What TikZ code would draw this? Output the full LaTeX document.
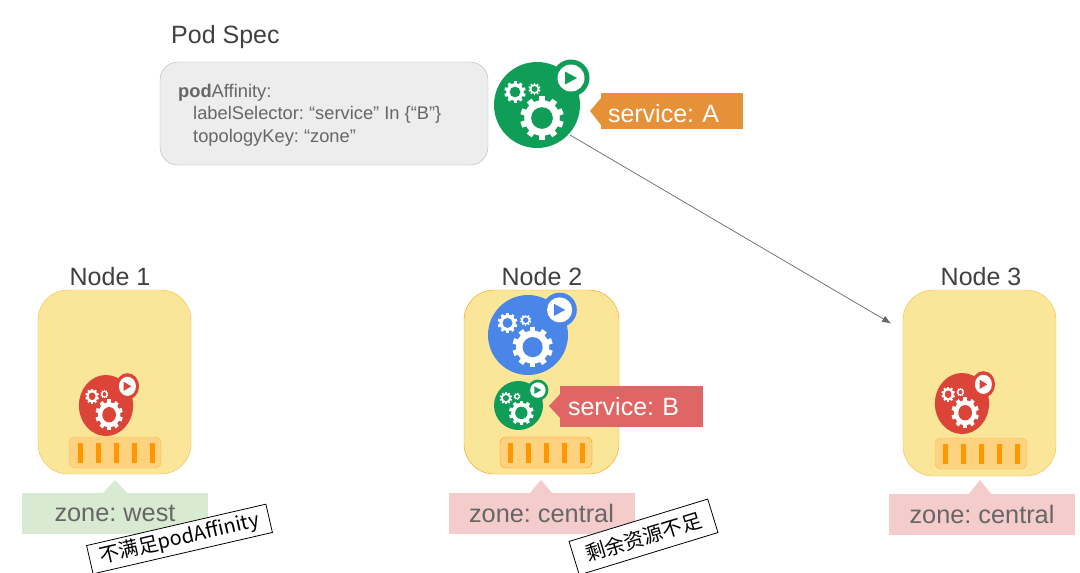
\documentclass[tikz,border=0pt]{standalone}
\usepackage{fontspec}
\setmainfont{Liberation Sans}
\newfontfamily\cjk{Noto Sans CJK SC}
\usepackage{tikz}
\usetikzlibrary{arrows.meta}
\frenchspacing

\definecolor{podgreen}{HTML}{0F9D58}
\definecolor{podblue}{HTML}{4A86E8}
\definecolor{podred}{HTML}{DB4437}
\definecolor{tagorange}{HTML}{E69138}
\definecolor{tagred}{HTML}{E06666}
\definecolor{zonegreen}{HTML}{D9EAD3}
\definecolor{zonered}{HTML}{F4CCCC}
\definecolor{nodeyellow}{HTML}{FAE699}
\definecolor{nodeedge}{HTML}{FFB74D}
\definecolor{diskfill}{HTML}{FFD27F}
\definecolor{diskbar}{HTML}{FF9800}

\tikzset{
  title/.style={text=black!75, font=\fontsize{25}{29}\selectfont, inner sep=0pt},
  nodebox/.style={draw=nodeedge, fill=nodeyellow, rounded corners=30pt, minimum width=153pt, minimum height=184pt},
  diskbox/.style={draw=nodeedge, fill=diskfill, rounded corners=6pt, minimum width=92pt, minimum height=31pt},
  zonetag/.style={text=black!60, font=\fontsize{25.3}{29}\selectfont, minimum width=186pt, minimum height=41pt, inner sep=0pt},
  servicetag/.style={text=white, font=\fontsize{25}{29}\selectfont, minimum height=36pt, inner ysep=0pt, align=left},
  notebox/.style={draw=black, line width=0.8pt, fill=white, font=\cjk\fontsize{20}{24}\selectfont, inner sep=0pt, minimum height=29pt},
  pics/cogwheel/.style={code={
    \fill[white] (0,0) circle (0.82);
    \foreach \a in {0,36,...,324}
      \fill[white,rotate=\a] (-0.14,0.6) rectangle (0.14,1);
    \fill[#1] (0,0) circle (0.5);
  }},
  pics/podicon/.style={code={
    \fill[#1] (0,0) circle (43);
    \fill[#1] (34,-27) circle (18.5);
    \fill[white] (34,-27) circle (13.5);
    \fill[#1] (28,-33.5) -- (40,-27) -- (28,-20.5) -- cycle;
    \pic[transform shape,scale=21.7] at (5,13) {cogwheel=#1};
    \pic[transform shape,scale=10.7] at (-22,-13) {cogwheel=#1};
    \pic[transform shape,scale=6] at (-2.5,-16) {cogwheel=#1};
    \coordinate (-edge) at (33,30);
  }},
  pics/diskbars/.style={code={
    \foreach \i in {0,...,4}
      \fill[diskbar] (18*\i-2.5,-10) rectangle (18*\i+2.5,10);
  }},
}

\begin{document}
\begin{tikzpicture}[x=1pt,y=-1pt,shorten >=1pt]
  \useasboundingbox (0,0) rectangle (1080,573);

  % Pod spec
  \node[title, anchor=west] (spectitle) at (171,37) {Pod Spec};
  \node[draw=black!30, fill=black!7, rounded corners=18pt, minimum width=328pt, minimum height=103pt] (specbox) at (324,113.5) {};
  \node[anchor=west, align=left, inner sep=0pt, text=black!60, font=\fontsize{18.3}{22.5}\selectfont] (spectext) at (178,115)
    {\textbf{pod}Affinity:\\\hspace*{15pt}labelSelector: “service” In \{“B”\}\\\hspace*{15pt}topologyKey: “zone”};
  \pic (podA) at (537,105) {podicon=podgreen};
  \node[servicetag, fill=tagorange, text width=128pt, inner xsep=7pt, text height=22pt, text depth=0pt] (tagA) at (672,111) {service: A};
  \coordinate (tipA) at (590,111);
  \fill[tagorange] (601,98) -- (tipA) -- (601,125) -- cycle;

  % Nodes
  \node[title] (title1) at (110,277) {Node 1};
  \node[title] (title2) at (542,277) {Node 2};
  \node[title] (title3) at (981,277) {Node 3};
  \node[nodebox] (node1) at (114.5,382) {};
  \node[nodebox, draw=diskbar, minimum width=155pt] (node2) at (541.5,382) {};
  \node[nodebox, minimum height=186pt] (node3) at (979.5,383) {};

  \node[diskbox] (disk1) at (115,452.5) {};
  \node[diskbox, draw=diskbar] (disk2) at (546,452.5) {};
  \node[diskbox] (disk3) at (981,453.5) {};
  \pic at (80.5,452.5) {diskbars};
  \pic at (510,452.5) {diskbars};
  \pic at (945,453.5) {diskbars};

  % Pods
  \pic[xscale=0.63,yscale=0.71] at (106,405.5) {podicon=podred};
  \pic[scale=0.93] at (528,335) {podicon=podblue};
  \pic[scale=0.57] at (518.5,405.5) {podicon=podgreen};
  \pic[xscale=0.63,yscale=0.71] at (962,403.5) {podicon=podred};

  \node[servicetag, fill=tagred, text width=135pt, inner xsep=4pt, minimum height=41pt] (tagB) at (631.5,406.5) {\hspace*{4pt}service: B};
  \coordinate (tipB) at (549,406);
  \fill[tagred] (561,393) -- (tipB) -- (561,419) -- cycle;

  % Zones
  \node[zonetag, fill=zonegreen] (zone1) at (115,513.5) {zone: west};
  \node[zonetag, fill=zonered] (zone2) at (541.5,513.5) {zone: central};
  \node[zonetag, fill=zonered] (zone3) at (982,514.5) {zone: central};
  \fill[zonegreen] (102,494) -- (115,480) -- (128,494) -- cycle;
  \fill[zonered] (529,494) -- (541,480) -- (553,494) -- cycle;
  \fill[zonered] (968,495) -- (980,480) -- (992,495) -- cycle;

  % Notes
  \node[notebox, rotate=13, minimum width=184pt] (note1) at (179.5,539) {不满足podAffinity};
  \node[notebox, rotate=17, minimum width=145pt, minimum height=35pt] (note2) at (643.5,537) {剩余资源不足};

  % Edges
  \coordinate (arrowend) at (892,324);
  \draw[-{Latex[length=9pt,width=7pt]}, black!60, line width=0.7pt] (podA-edge) -- (arrowend);
\end{tikzpicture}
\end{document}
